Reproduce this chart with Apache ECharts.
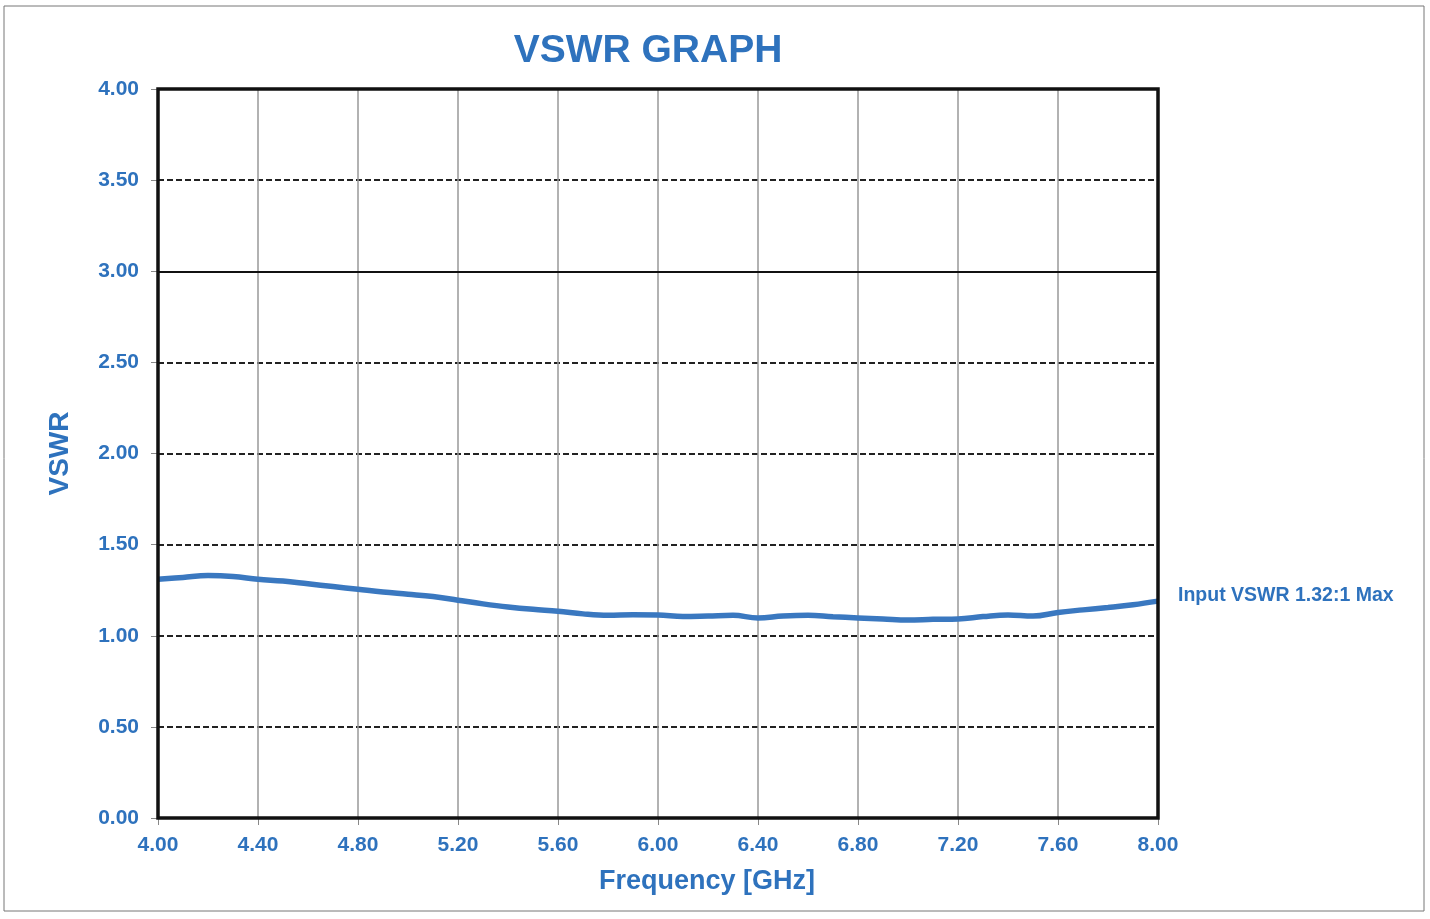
<!DOCTYPE html>
<html>
<head>
<meta charset="utf-8">
<script src="https://cdn.jsdelivr.net/npm/echarts@6/dist/echarts.min.js"></script>
<style>
html,body{margin:0;padding:0;background:#fff;}
#chart{width:1430px;height:919px;}
</style>
</head>
<body>
<div id="chart"></div>
<script>
const freqGHz = [4.0,4.1,4.2,4.3,4.4,4.5,4.6,4.7,4.8,4.9,5.0,5.1,5.2,5.3,5.4,5.5,5.6,5.7,5.8,5.9,6.0,6.1,6.2,6.3,6.4,6.5,6.6,6.7,6.8,6.9,7.0,7.1,7.2,7.3,7.4,7.5,7.6,7.7,7.8,7.9,8.0];
const vswr = [1.31,1.32,1.33,1.325,1.31,1.30,1.285,1.27,1.255,1.24,1.228,1.215,1.195,1.175,1.158,1.145,1.135,1.12,1.112,1.115,1.114,1.105,1.108,1.112,1.098,1.108,1.112,1.104,1.098,1.092,1.086,1.09,1.092,1.105,1.114,1.108,1.128,1.142,1.155,1.17,1.19];
const titleText = 'VSWR GRAPH';
const xName = 'Frequency [GHz]';
const yName = 'VSWR';
const noteText = 'Input VSWR 1.32:1 Max';
const solidLineAt = 3.0;

const blue = '#2e72bd';
const font = '"Liberation Sans", Arial, sans-serif';
const chart = echarts.init(document.getElementById('chart'));
chart.setOption({
  backgroundColor: '#fff',
  animation: false,
  title: {
    text: titleText, left: 643, top: 27, textAlign: 'center',
    textStyle: {color: blue, fontSize: 39, fontWeight: 'bold', fontFamily: font}
  },
  graphic: [
    {type: 'rect', shape: {x: 4, y: 6, width: 1420, height: 905},
     style: {fill: 'none', stroke: '#777', lineWidth: 1}, silent: true},
    {type: 'rect', shape: {x: 158, y: 89, width: 1000, height: 729}, z: 10,
     style: {fill: 'none', stroke: '#111', lineWidth: 3.5}, silent: true},
    {type: 'text', left: 1178, top: 586, z: 10,
     style: {text: noteText, fill: blue, font: 'bold 19.5px ' + font}},
    {type: 'text', x: 707, y: 882, z: 10,
     style: {text: xName, fill: blue, font: 'bold 27px ' + font, align: 'center', verticalAlign: 'middle'}}
  ],
  grid: {left: 158, right: 272, top: 89, bottom: 101, show: false},
  xAxis: {
    type: 'value', min: 4, max: 8, interval: 0.4,
    axisLine: {show: false},
    axisTick: {show: true, length: 7, lineStyle: {color: '#888'}},
    axisLabel: {color: blue, fontSize: 21, fontWeight: 'bold', fontFamily: font, margin: 17,
                formatter: v => v.toFixed(2)},
    splitLine: {show: true, showMinLine: false, showMaxLine: false, lineStyle: {color: '#999', width: 1.5}}
  },
  yAxis: {
    type: 'value', min: 0, max: 4, interval: 0.5,
    name: yName, nameLocation: 'middle', nameGap: 84, nameRotate: 90,
    nameTextStyle: {color: blue, fontSize: 28, fontWeight: 'bold', fontFamily: font},
    axisLine: {show: false},
    axisTick: {show: true, length: 7, lineStyle: {color: '#888'}},
    axisLabel: {color: blue, fontSize: 21, fontWeight: 'bold', fontFamily: font, margin: 19,
                formatter: v => v.toFixed(2)},
    splitLine: {show: true, showMinLine: false, showMaxLine: false, lineStyle: {color: '#222', width: 2, type: [6, 3]}}
  },
  series: [{
    type: 'line',
    data: freqGHz.map((f, i) => [f, vswr[i]]),
    smooth: 0.4,
    symbol: 'none',
    lineStyle: {color: '#3a78c0', width: 5.5},
    markLine: {
      silent: true, symbol: 'none', label: {show: false},
      lineStyle: {color: '#111', width: 2, type: 'solid'},
      data: [{yAxis: solidLineAt}]
    }
  }]
});
</script>
</body>
</html>
